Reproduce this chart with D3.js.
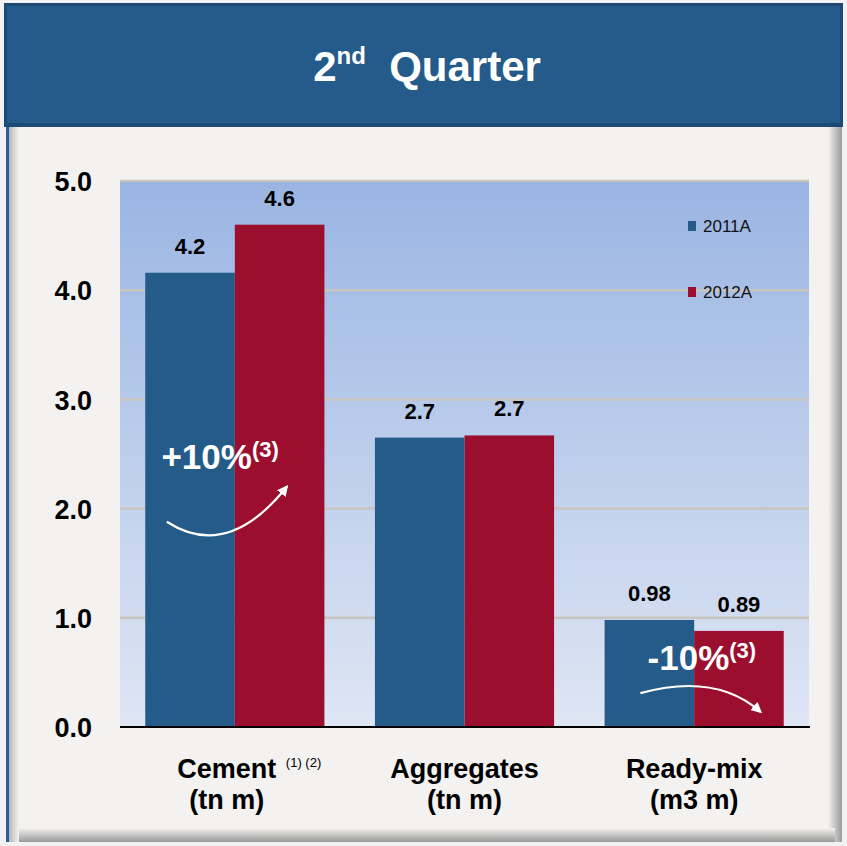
<!DOCTYPE html>
<html><head><meta charset="utf-8">
<script src="https://cdn.jsdelivr.net/npm/d3@7/dist/d3.min.js"></script>
<style>body{margin:0;background:#f1f1f1;}svg{display:block;font-family:"Liberation Sans",Arial,sans-serif;}</style>
</head><body><svg id="c" width="847" height="846"></svg>
<script>
const categories = ["Cement", "Aggregates", "Ready-mix"];
const units = ["(tn m)", "(tn m)", "(m3 m)"];
const footnotes = ["(1) (2)", "", ""];
const seriesNames = ["2011A", "2012A"];
const values2011 = [4.16, 2.65, 0.98];
const values2012 = [4.60, 2.67, 0.88];
const labels2011 = ["4.2", "2.7", "0.98"];
const labels2012 = ["4.6", "2.7", "0.89"];
const yTicks = [0, 1, 2, 3, 4, 5];
const changes = [{cat: "Cement", text: "+10%", note: "(3)", dir: "up"}, {cat: "Ready-mix", text: "-10%", note: "(3)", dir: "down"}];
const colors = ["#245b89", "#9c0e2d"];

(function(){
const svg = d3.select("#c");
const defs = svg.append("defs");
const g1 = defs.append("linearGradient").attr("id","bg").attr("x1",0).attr("y1",0).attr("x2",0).attr("y2",1);
g1.append("stop").attr("offset","0%").attr("stop-color","#9ab5e3");
g1.append("stop").attr("offset","100%").attr("stop-color","#dfe6f4");
const gr = defs.append("linearGradient").attr("id","rs").attr("x1",0).attr("y1",0).attr("x2",1).attr("y2",0);
gr.append("stop").attr("offset","0%").attr("stop-color","#f3f2f0");
gr.append("stop").attr("offset","100%").attr("stop-color","#9a9a9a");
const gb = defs.append("linearGradient").attr("id","bs").attr("x1",0).attr("y1",0).attr("x2",0).attr("y2",1);
gb.append("stop").attr("offset","0%").attr("stop-color","#f3f2f0");
gb.append("stop").attr("offset","100%").attr("stop-color","#9a9a9a");
const gl = defs.append("linearGradient").attr("id","ls").attr("x1",0).attr("y1",0).attr("x2",1).attr("y2",0);
gl.append("stop").attr("offset","0%").attr("stop-color","#b8b8b8");
gl.append("stop").attr("offset","100%").attr("stop-color","#f3f2f0");
defs.append("marker").attr("id","ah").attr("viewBox","0 0 10 10").attr("refX",8).attr("refY",5)
  .attr("markerWidth",5).attr("markerHeight",5).attr("orient","auto")
  .append("path").attr("d","M0,0L10,5L0,10z").attr("fill","#fff");

// outer frame
svg.append("rect").attr("x",0).attr("y",0).attr("width",847).attr("height",846).attr("fill","#f2f2f2");
svg.append("rect").attr("x",6).attr("y",125).attr("width",836).attr("height",717).attr("fill","#f3f2f0");
svg.append("rect").attr("x",828).attr("y",125).attr("width",14).attr("height",717).attr("fill","url(#rs)");
svg.append("rect").attr("x",9).attr("y",828).attr("width",826).attr("height",14).attr("fill","url(#bs)");
svg.append("rect").attr("x",9).attr("y",125).attr("width",10).attr("height",717).attr("fill","url(#ls)");
svg.append("rect").attr("x",6).attr("y",125).attr("width",3).attr("height",717).attr("fill","#2a5f8f");
// header
svg.append("rect").attr("x",4).attr("y",3).attr("width",839).attr("height",124).attr("fill","#1c4a74");
svg.append("rect").attr("x",7).attr("y",6).attr("width",833).attr("height",117).attr("fill","#255b8a");
const title = svg.append("text").attr("x",427).attr("y",81).attr("text-anchor","middle")
  .attr("fill","#fff").attr("font-weight","bold").attr("font-size",42);
title.append("tspan").text("2");
title.append("tspan").attr("font-size",24).attr("dy",-17).text("nd");
title.append("tspan").attr("dy",17).text("\u00a0 Quarter");

const pl = 120, pr = 809, pt = 181, pb = 727;
const x = d3.scaleBand().domain(categories).range([pl, pr]).paddingInner(0.22).paddingOuter(0.11);
const x1 = d3.scaleBand().domain(seriesNames).range([0, x.bandwidth()]);
const y = d3.scaleLinear().domain([0, 5]).range([pb, pt]);

svg.append("rect").attr("x",pl).attr("y",pt).attr("width",pr-pl).attr("height",pb-pt).attr("fill","url(#bg)");
svg.append("g").selectAll("line").data(yTicks.filter(d=>d>0)).join("line")
  .attr("x1",pl).attr("x2",pr).attr("y1",d=>y(d)).attr("y2",d=>y(d))
  .attr("stroke","#c8c4be").attr("stroke-width",2.5);

const data = categories.map((c,i)=>({c, vals:[values2011[i], values2012[i]], labs:[labels2011[i], labels2012[i]]}));
const grp = svg.append("g").selectAll("g").data(data).join("g").attr("transform",d=>`translate(${x(d.c)},0)`);
grp.selectAll("rect").data(d=>d.vals.map((v,j)=>({v,j,s:seriesNames[j]}))).join("rect")
  .attr("x",d=>x1(d.s)).attr("width",x1.bandwidth()).attr("y",d=>y(d.v)).attr("height",d=>pb-y(d.v))
  .attr("fill",d=>colors[d.j]);
grp.selectAll("text").data(d=>d.vals.map((v,j)=>({v,j,s:seriesNames[j],l:d.labs[j]}))).join("text")
  .attr("x",d=>x1(d.s)+x1.bandwidth()/2).attr("y",d=>y(d.v)-19).attr("text-anchor","middle")
  .attr("font-weight","bold").attr("font-size",22).attr("fill","#000").text(d=>d.l);

// axis line
svg.append("line").attr("x1",pl).attr("x2",pr+1).attr("y1",pb).attr("y2",pb).attr("stroke","#000").attr("stroke-width",2);

// y axis
const yAxis = d3.axisLeft(y).tickValues(yTicks).tickFormat(d3.format(".1f")).tickSize(0).tickPadding(0);
const ya = svg.append("g").attr("transform",`translate(92,0)`).call(yAxis);
ya.select(".domain").remove();
ya.selectAll("text").attr("font-size",27).attr("font-weight","bold").attr("fill","#000")
  .attr("font-family","'Liberation Sans',Arial,sans-serif").attr("dy","0.36em");

// x labels
categories.forEach((c,i)=>{
  const cx = x(c) + x.bandwidth()/2 + (footnotes[i] ? -8 : 0);
  svg.append("text").attr("x",cx).attr("y",778).attr("text-anchor","middle")
    .attr("font-weight","bold").attr("font-size",27).attr("fill","#000").text(c);
  if (footnotes[i]) {
    svg.append("text").attr("x",cx + 59).attr("y",767).attr("font-size",13).attr("fill","#000").text(footnotes[i]);
  }
  svg.append("text").attr("x",cx).attr("y",809).attr("text-anchor","middle")
    .attr("font-weight","bold").attr("font-size",27).attr("fill","#000").text(units[i]);
});

// legend
const lg = svg.append("g").selectAll("g").data(seriesNames).join("g")
  .attr("transform",(d,i)=>`translate(688,${226 + i*66})`);
lg.append("rect").attr("x",0).attr("y",-5).attr("width",8).attr("height",10).attr("fill",(d,i)=>colors[i]);
lg.append("text").attr("x",15).attr("y",0).attr("dy","0.35em").attr("font-size",17).attr("fill","#111").text(d=>d);

// change annotations
changes.forEach(ch=>{
  const bx = x(ch.cat), bw = x.bandwidth();
  const p = d3.path();
  let tx, ty;
  if (ch.dir === "up") {
    tx = bx + bw*0.09; ty = y(2.36);
    p.moveTo(bx + bw*0.12, y(1.88));
    p.quadraticCurveTo(bx + bw*0.46, y(1.52), bx + bw*0.79, y(2.2));
  } else {
    tx = bx + bw*0.24; ty = y(0.52);
    p.moveTo(bx + bw*0.2, y(0.31));
    p.quadraticCurveTo(bx + bw*0.62, y(0.5), bx + bw*0.87, y(0.14));
  }
  const t = svg.append("text").attr("x",tx).attr("y",ty).attr("fill","#fff").attr("font-weight","bold").attr("font-size",35);
  t.append("tspan").text(ch.text);
  t.append("tspan").attr("font-size",22).attr("dy",-12).text(ch.note);
  svg.append("path").attr("d",p.toString()).attr("fill","none").attr("stroke","#fff").attr("stroke-width",2.2).attr("marker-end","url(#ah)");
});
})();
</script></body></html>
